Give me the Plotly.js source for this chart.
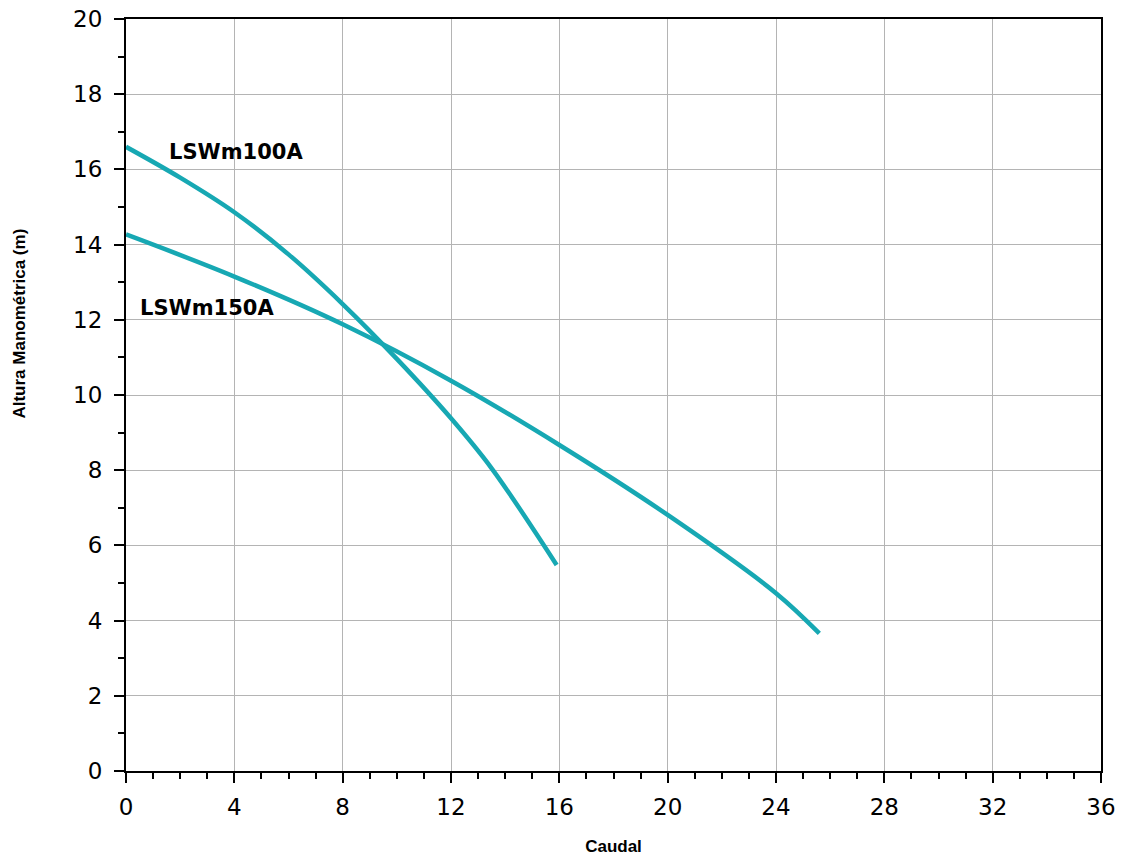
<!DOCTYPE html>
<html>
<head>
<meta charset="utf-8">
<script src="https://cdn.plot.ly/plotly-3.0.1.min.js"></script>
<style>html,body{margin:0;padding:0;background:#fff;}#chart{width:1126px;height:858px;}</style>
</head>
<body>
<div id="chart"></div>
<script>
// LSWm100A curve
const flow100 = [0, 2, 4, 6, 8, 10, 12, 13.5, 15.9];
const head100 = [16.6, 15.78, 14.86, 13.74, 12.42, 10.96, 9.38, 8.05, 5.48];
// LSWm150A curve
const flow150 = [0, 4, 8, 12, 16, 20, 24, 25.6];
const head150 = [14.27, 13.15, 11.88, 10.38, 8.67, 6.81, 4.73, 3.66];
const seriesNames = ["LSWm100A", "LSWm150A"];
const xTitle = "Caudal";
const yTitle = "Altura Manométrica (m)";

const lineColor = "#17a8b3";
const traces = [
  {x: flow100, y: head100, mode: "lines", name: seriesNames[0], line: {color: lineColor, width: 4.5, shape: "spline", smoothing: 1}, showlegend: false},
  {x: flow150, y: head150, mode: "lines", name: seriesNames[1], line: {color: lineColor, width: 4.5, shape: "spline", smoothing: 1}, showlegend: false}
];

const titleFont = {family: "Liberation Sans, Arial, sans-serif", size: 17, weight: "bold", color: "#000"};
const tickFont = {family: "DejaVu Sans", size: 23, color: "#000"};

const layout = {
  width: 1126, height: 858,
  margin: {l: 126, r: 25, t: 19, b: 87},
  paper_bgcolor: "#fff", plot_bgcolor: "#fff",
  font: {family: "DejaVu Sans", color: "#000"},
  xaxis: {
    range: [0, 36], tick0: 0, dtick: 4, showgrid: true, gridcolor: "#b4b4b4", gridwidth: 1,
    zeroline: false, showline: true, linecolor: "#000", linewidth: 2, mirror: true,
    ticks: "outside", ticklen: 10, tickwidth: 2, tickcolor: "#000", ticklabelstandoff: 4,
    tickfont: tickFont,
    minor: {dtick: 1, ticks: "outside", ticklen: 6, tickwidth: 2, tickcolor: "#000", showgrid: false},
    title: {text: xTitle, font: titleFont, standoff: 22}
  },
  xaxis2: {
    overlaying: "x", anchor: "y", range: [0, 36], tick0: 0, dtick: 2, showgrid: false, zeroline: false,
    showline: false, ticks: "outside", ticklen: 10, tickwidth: 2, tickcolor: "#000", showticklabels: false
  },
  yaxis: {
    range: [0, 20], tick0: 0, dtick: 2, showgrid: true, gridcolor: "#b4b4b4", gridwidth: 1,
    zeroline: false, showline: true, linecolor: "#000", linewidth: 2, mirror: true,
    ticks: "outside", ticklen: 10, tickwidth: 2, tickcolor: "#000", ticklabelstandoff: 7,
    tickfont: tickFont,
    minor: {dtick: 1, ticks: "outside", ticklen: 6, tickwidth: 2, tickcolor: "#000", showgrid: false}
  },
  annotations: [
    {x: 1.5, y: 16.46, xref: "x", yref: "y", text: seriesNames[0], showarrow: false, xanchor: "left", yanchor: "middle",
     font: {family: "DejaVu Sans", size: 21, weight: "bold", color: "#000"}},
    {x: 0.44, y: 12.31, xref: "x", yref: "y", text: seriesNames[1], showarrow: false, xanchor: "left", yanchor: "middle",
     font: {family: "DejaVu Sans", size: 21, weight: "bold", color: "#000"}},
    {x: -0.1087, y: 0.595, xref: "paper", yref: "paper", text: yTitle, textangle: -90, showarrow: false,
     xanchor: "center", yanchor: "middle", font: titleFont}
  ]
};

Plotly.newPlot("chart", traces, layout, {displayModeBar: false, staticPlot: true});
</script>
</body>
</html>
